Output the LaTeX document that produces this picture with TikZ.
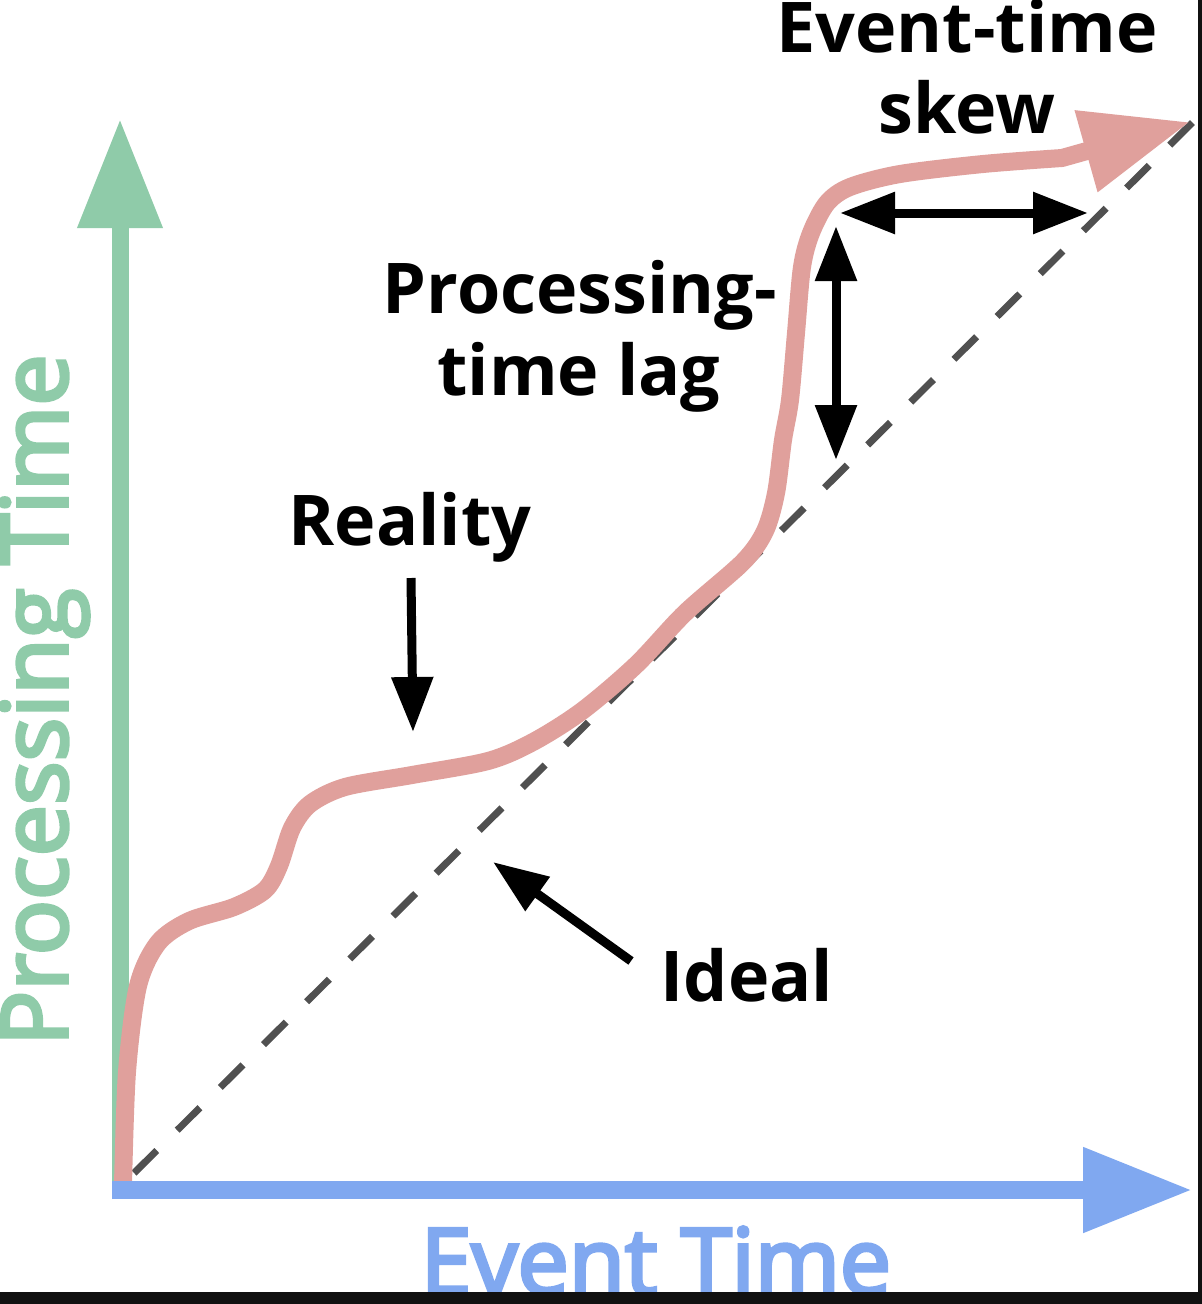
\documentclass[tikz,border=0pt]{standalone}
\usepackage{fontspec}
\setmainfont{Open Sans}
\newfontfamily\axisfont{Open Sans}[FakeBold=4]
\usetikzlibrary{arrows.meta}
\definecolor{axgreen}{RGB}{143,203,169}
\definecolor{axblue}{RGB}{128,168,240}
\definecolor{curvepink}{RGB}{224,160,156}
\definecolor{dashgray}{RGB}{80,80,80}
\definecolor{framedark}{RGB}{17,17,17}
\begin{document}
\begin{tikzpicture}[x=1pt,y=-1pt,
  labeltext/.style={font=\fontsize{70}{82}\selectfont\bfseries, text=black, inner sep=0pt, anchor=base},
  axislabel/.style={font=\axisfont\fontsize{91.5}{100}\selectfont, inner sep=0pt, anchor=base},
  bigarrow/.style={line width=#1, -{Triangle[length=109pt,width=81pt]}},
  notearrow/.style={black, line width=9pt, -{Triangle[length=55pt,width=40pt]}},
  dblarrow/.style={black, line width=9pt, {Triangle[length=55pt,width=40pt]}-{Triangle[length=55pt,width=40pt]}},
  idealline/.style={dashgray, line width=7pt, dash pattern=on 32pt off 28.8pt, dash phase=42.4pt},
  realcurve/.style={curvepink, line width=18pt, line join=round, -{Triangle[length=108pt,width=80pt]}}
]
\useasboundingbox (0,0) rectangle (1202,1304);
\fill[white] (0,0) rectangle (1202,1304);

% named points
\coordinate (origin) at (121,1186);
\coordinate (idealEnd) at (1195,120);
\coordinate (ptTop) at (120,119);
\coordinate (ptBottom) at (120,1199);
\coordinate (etLeft) at (112,1190);
\coordinate (etRight) at (1192,1190);
\coordinate (lagTop) at (836,226);
\coordinate (lagBottom) at (836,460);
\coordinate (skewLeft) at (840,213);
\coordinate (skewRight) at (1088,213);
\coordinate (realityTip) at (413,732);
\coordinate (realityTail) at (411,578);
\coordinate (idealTip) at (493,862);
\coordinate (idealTail) at (631,961);
\coordinate (curveTip) at (1190,122);

% ideal (dashed diagonal)
\draw[idealline] (origin) -- (idealEnd);

% processing-time axis
\draw[axgreen, bigarrow=17pt] (ptBottom) -- (ptTop);

% reality curve
\draw[realcurve] plot[smooth, tension=0.5] coordinates {
  (123,1185) (127,1072) (138,986) (158,943) (189,921) (234,907) (265,890)
  (279,866) (292,828) (310,804) (345,787) (412,775) (488,761) (533,742)
  (582,711) (636,665) (685,613) (743,562) (765,531) (776,493) (783,440)
  (790,400) (796,333) (802,267) (811,233) (827,203) (850,187) (900,174)
  (983,164) (1062,158)} -- (curveTip);

% event-time axis
\draw[axblue, bigarrow=18pt] (etLeft) -- (etRight);

% annotation arrows
\draw[dblarrow] (lagTop) -- (lagBottom);
\draw[dblarrow] (skewLeft) -- (skewRight);
\draw[notearrow] (realityTail) -- (realityTip);
\draw[notearrow] (idealTail) -- (idealTip);

% labels
\node[labeltext] (skewA) at (967,52) {Event-time};
\node[labeltext] (skewB) at (967,133) {skew};
\node[labeltext] (lagA) at (580,313) {Processing-};
\node[labeltext] (lagB) at (579,395) {time lag};
\node[labeltext] (reality) at (410,545) {Reality};
\node[labeltext] (ideal) at (747,1001) {Ideal};

\node[axislabel, text=axgreen, rotate=90] (ptLabel) at (67,700) {Processing Time};
\node[axislabel, text=axblue] (etLabel) at (656,1294) {Event Time};

% dark frame edges
\fill[framedark] (0,1292) rectangle (1202,1304);
\fill[framedark] (1198,0) rectangle (1202,1304);
\end{tikzpicture}
\end{document}
